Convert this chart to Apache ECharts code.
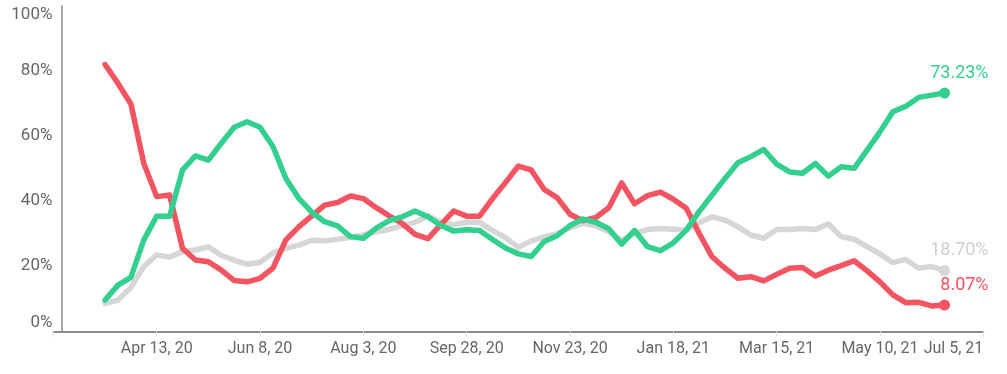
<!DOCTYPE html>
<html>
<head>
<meta charset="utf-8">
<script src="https://cdn.jsdelivr.net/npm/echarts@6/dist/echarts.min.js"></script>
<style>
  html, body { margin: 0; padding: 0; background: #ffffff; }
  #chart { width: 1007px; height: 374px; }
</style>
</head>
<body>
<div id="chart"></div>
<script>
// Week numbers counted from Feb 17, 2020 (week 0). Data runs weekly from Mar 16, 2020 (week 4).
const firstWeek = 4;
const tickWeeks = [8, 16, 24, 32, 40, 48, 56, 64, 72];
const tickLabels = ['Apr 13, 20', 'Jun 8, 20', 'Aug 3, 20', 'Sep 28, 20', 'Nov 23, 20',
                    'Jan 18, 21', 'Mar 15, 21', 'May 10, 21', 'Jul 5, 21'];

const redValues = [
  82.0, 76.2, 69.9, 51.6, 41.4, 41.9, 25.5, 21.9, 21.4, 18.8,
  15.6, 15.2, 16.3, 19.4, 28.1, 32.1, 35.5, 38.8, 39.6, 41.6,
  40.8, 38.0, 35.5, 33.2, 29.8, 28.5, 32.8, 37.0, 35.4, 35.4,
  40.8, 45.7, 50.8, 49.6, 43.6, 41.1, 36.0, 34.0, 35.0, 38.0,
  45.6, 39.2, 41.7, 42.8, 40.6, 37.8, 30.1, 22.9, 19.4, 16.3,
  16.8, 15.5, 17.5, 19.4, 19.6, 17.0, 18.8, 20.2, 21.7, 18.6,
  15.2, 11.2, 8.8, 8.9, 7.8, 8.07
];
const greenValues = [
  9.6, 14.2, 16.6, 28.1, 35.4, 35.4, 49.6, 53.9, 52.6, 57.8,
  62.7, 64.4, 62.7, 56.8, 47.0, 40.9, 36.6, 33.7, 32.4, 29.1,
  28.6, 31.7, 34.0, 35.2, 37.0, 35.2, 32.5, 30.8, 31.2, 31.0,
  28.2, 25.6, 23.8, 23.0, 27.6, 29.4, 32.5, 34.5, 33.5, 31.5,
  26.8, 31.0, 26.0, 24.8, 27.2, 31.1, 36.8, 41.9, 47.0, 51.8,
  53.7, 55.9, 51.4, 49.0, 48.6, 51.6, 47.7, 50.6, 50.1, 55.7,
  61.3, 67.5, 69.2, 71.9, 72.6, 73.23
];
const grayValues = [
  8.6, 9.6, 13.5, 19.9, 23.5, 22.8, 24.5, 25.0, 26.0, 23.3,
  21.9, 20.6, 21.2, 24.1, 25.5, 26.5, 28.0, 27.8, 28.3, 28.9,
  29.6, 30.6, 31.3, 32.5, 33.5, 35.5, 33.5, 32.8, 33.5, 33.5,
  31.0, 28.8, 25.8, 27.8, 29.0, 30.0, 31.8, 33.2, 32.4, 30.6,
  28.0, 30.0, 31.3, 31.6, 31.4, 31.1, 33.4, 35.2, 34.2, 32.1,
  29.6, 28.6, 31.3, 31.3, 31.6, 31.3, 33.0, 29.1, 28.3, 26.0,
  23.8, 21.1, 22.1, 19.4, 19.9, 18.70
];

const RED = '#f25461';
const GREEN = '#33cf8e';
const GRAY = '#d6d6d6';
const GRAY_LABEL = '#cfcfcf';

function buildData(values, color, labelColor) {
  const last = values.length - 1;
  return values.map(function (v, i) {
    const x = firstWeek + i;
    if (i === last) {
      return {
        value: [x, v],
        symbol: 'circle',
        symbolSize: 11,
        itemStyle: { color: color },
        label: {
          show: true,
          position: 'top',
          align: 'right',
          offset: [44, 0],
          distance: 5,
          formatter: v.toFixed(2) + '%',
          color: labelColor,
          fontSize: 18,
          fontFamily: 'Roboto'
        }
      };
    }
    return [x, v];
  });
}

function lineSeries(name, values, color, labelColor) {
  return {
    name: name,
    type: 'line',
    data: buildData(values, color, labelColor),
    symbol: 'none',
    showSymbol: true,
    showAllSymbol: true,
    smooth: false,
    silent: true,
    animation: false,
    lineStyle: { color: color, width: 5.5, cap: 'round', join: 'round' },
    itemStyle: { color: color },
    label: { show: false }
  };
}

const chart = echarts.init(document.getElementById('chart'), null, { renderer: 'canvas' });
chart.setOption({
  backgroundColor: '#ffffff',
  animation: false,
  grid: { left: 53.4, right: 23.7, top: 6, bottom: 42.7, containLabel: false },
  xAxis: {
    type: 'value',
    min: 0,
    max: 72,
    interval: 8,
    axisLine: { show: true, lineStyle: { color: '#8a8a8a', width: 2 } },
    axisTick: { show: true, length: 5, lineStyle: { color: '#e0e0e0', width: 1 } },
    splitLine: { show: false },
    axisLabel: {
      margin: 10,
      color: '#666666',
      fontSize: 16,
      fontFamily: 'Roboto',
      alignMaxLabel: 'right',
      formatter: function (val) {
        const idx = tickWeeks.indexOf(Math.round(val));
        return idx >= 0 ? tickLabels[idx] : '';
      }
    }
  },
  yAxis: {
    type: 'value',
    min: 0,
    max: 100,
    interval: 20,
    offset: -8,
    axisLine: { show: true, lineStyle: { color: '#8a8a8a', width: 1.5 } },
    axisTick: { show: false },
    splitLine: { show: false },
    axisLabel: {
      margin: 9,
      color: '#666666',
      fontSize: 17,
      fontFamily: 'Roboto',
      verticalAlignMinLabel: 'bottom',
      verticalAlignMaxLabel: 'top',
      formatter: function (val) { return val + '%'; }
    }
  },
  series: [
    lineSeries('gray', grayValues, GRAY, GRAY_LABEL),
    lineSeries('red', redValues, RED, RED),
    lineSeries('green', greenValues, GREEN, GREEN)
  ]
});
</script>
</body>
</html>
